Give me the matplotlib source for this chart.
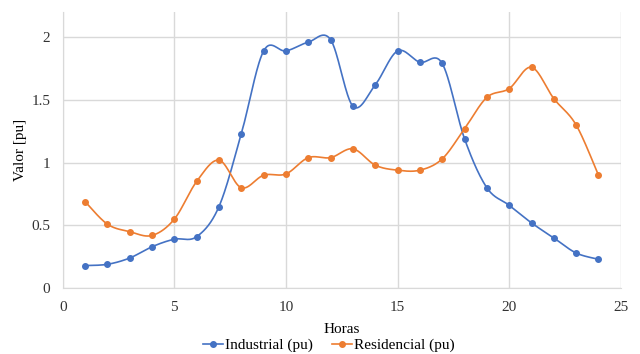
import numpy as np
import matplotlib.pyplot as plt

plt.rcParams['font.family'] = ['Liberation Serif', 'DejaVu Serif']

horas = list(range(1, 25))
industrial = [0.18, 0.19, 0.24, 0.33, 0.39, 0.41, 0.65, 1.23, 1.89, 1.89, 1.96, 1.98,
              1.45, 1.62, 1.89, 1.80, 1.79, 1.19, 0.80, 0.66, 0.52, 0.40, 0.28, 0.23]
residencial = [0.69, 0.51, 0.45, 0.42, 0.55, 0.85, 1.02, 0.80, 0.90, 0.91, 1.04, 1.04,
               1.11, 0.98, 0.94, 0.94, 1.03, 1.27, 1.52, 1.59, 1.76, 1.51, 1.30, 0.90]


def suavizar(x, y, n=30):
    # curva Bezier tipo Catmull-Rom entre puntos consecutivos
    x = np.asarray(x, float)
    y = np.asarray(y, float)
    px = np.concatenate([[x[0]], x, [x[-1]]])
    py = np.concatenate([[y[0]], y, [y[-1]]])
    t = np.linspace(0, 1, n)
    xs, ys = [], []
    for i in range(1, len(px) - 2):
        p0 = np.array([px[i], py[i]])
        p3 = np.array([px[i + 1], py[i + 1]])
        c1 = p0 + (np.array([px[i + 1], py[i + 1]]) - np.array([px[i - 1], py[i - 1]])) / 6
        c2 = p3 - (np.array([px[i + 2], py[i + 2]]) - np.array([px[i], py[i]])) / 6
        b = ((1 - t) ** 3)[:, None] * p0 + (3 * (1 - t) ** 2 * t)[:, None] * c1 \
            + (3 * (1 - t) * t ** 2)[:, None] * c2 + (t ** 3)[:, None] * p3
        xs.extend(b[:, 0])
        ys.extend(b[:, 1])
    return xs, ys


fig = plt.figure(figsize=(6.4, 3.54), dpi=100)
ax = fig.add_axes([0.098, 0.186, 0.872, 0.78])

series = [(industrial, '#4472C4', 'Industrial (pu)'),
          (residencial, '#ED7D31', 'Residencial (pu)')]
for vals, color, label in series:
    sx, sy = suavizar(horas, vals)
    ax.plot(sx, sy, color=color, lw=1.2, zorder=3)
    ax.plot(horas, vals, 'o', color=color, ms=4, zorder=4)
    ax.plot([], [], '-o', color=color, lw=1.2, ms=4, label=label)

ax.set_xlim(0, 25)
ax.set_ylim(0, 2.2)
ax.set_xticks(range(0, 26, 5))
ax.set_yticks([0, 0.5, 1, 1.5, 2])
ax.set_yticklabels(['0', '0.5', '1', '1.5', '2'])
ax.grid(True, color='#d9d9d9', lw=1)
ax.set_axisbelow(True)
for s in ax.spines.values():
    s.set_visible(False)
ax.spines['left'].set_visible(True)
ax.spines['bottom'].set_visible(True)
ax.spines['left'].set_color('#d9d9d9')
ax.spines['bottom'].set_color('#d9d9d9')
ax.tick_params(length=0, labelsize=11, colors='#333333', pad=9)

ax.set_xlabel('Horas', fontsize=11, labelpad=7)
ax.set_ylabel('Valor [pu]', fontsize=11, labelpad=3)
ax.legend(loc='upper center', bbox_to_anchor=(0.477, -0.182), ncol=2, frameon=False,
          fontsize=11, handlelength=1.3, handletextpad=0.1, columnspacing=1.3,
          borderaxespad=0, borderpad=0)

fig.savefig('out.png', dpi=100)
